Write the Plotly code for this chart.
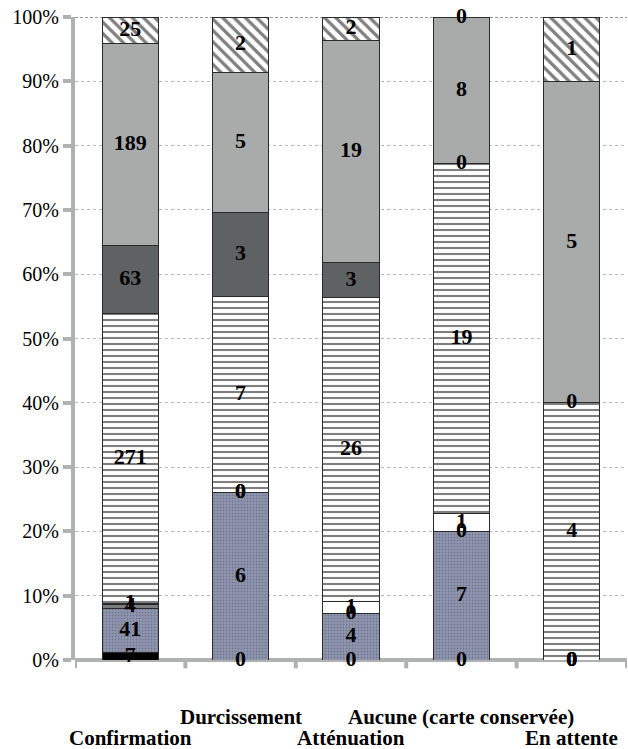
import plotly.graph_objects as go

# Categories and stacked series (counts), bottom to top
categories = ["Confirmation", "Durcissement", "Atténuation",
              "Aucune (carte conservée)", "En attente"]

s_black = [7, 0, 0, 0, 0]
s_granite = [41, 6, 4, 7, 0]
s_gray_band = [4, 0, 0, 0, 0]
s_white = [1, 0, 1, 1, 0]
s_hlines = [271, 7, 26, 19, 4]
s_dark = [63, 3, 3, 0, 0]
s_light = [189, 5, 19, 8, 5]
s_hatch = [25, 2, 2, 0, 1]

y_ticks = [0, 10, 20, 30, 40, 50, 60, 70, 80, 90, 100]
y_ticklabels = [f"{v}%" for v in y_ticks]

SERIF = "Liberation Serif, Times New Roman, Times, serif"
AXIS_GRAY = "#b0b2b2"

series = [
    dict(vals=s_black, color="#000000", pattern=None),
    dict(vals=s_granite, color="#8c93ab",
         pattern=dict(shape=".", fgcolor="#4f566c", bgcolor="#9097af",
                      size=3, solidity=0.3)),
    dict(vals=s_gray_band, color="#7a7c7d", pattern=None),
    dict(vals=s_white, color="#ffffff", pattern=None),
    dict(vals=s_hlines, color="#ffffff",
         pattern=dict(shape="-", fgcolor="#000000", bgcolor="#ffffff",
                      size=6, solidity=0.35)),
    dict(vals=s_dark, color="#5e6263", pattern=None),
    dict(vals=s_light, color="#a9abab", pattern=None),
    dict(vals=s_hatch, color="#ffffff",
         pattern=dict(shape="\\", fgcolor="#000000", bgcolor="#ffffff",
                      size=8, solidity=0.4)),
]

totals = [sum(s["vals"][i] for s in series) for i in range(len(categories))]

fig = go.Figure()
for s in series:
    marker = dict(color=s["color"], line=dict(color="#2a2a2a", width=1))
    if s["pattern"] is not None:
        marker["pattern"] = s["pattern"]
    fig.add_trace(go.Bar(x=categories, y=s["vals"], marker=marker,
                         showlegend=False, hoverinfo="skip"))

# Value labels centred in each segment (percent scale)
lab_x, lab_y, lab_t = [], [], []
for i, cat in enumerate(categories):
    cum = 0.0
    for s in series:
        v = s["vals"][i]
        pct = 100.0 * v / totals[i]
        lab_x.append(cat)
        lab_y.append(cum + pct / 2)
        lab_t.append(str(v))
        cum += pct
fig.add_trace(go.Scatter(
    x=lab_x, y=lab_y, text=lab_t, mode="text", showlegend=False,
    hoverinfo="skip", cliponaxis=False,
    textfont=dict(family=SERIF, size=22, color="#000000", weight="bold"),
))

# Staggered category labels
for i, cat in enumerate(categories):
    upper = (i % 2 == 1)
    fig.add_annotation(
        x=cat, xref="x", y=-0.088 if upper else -0.122, yref="paper",
        text=cat, showarrow=False, yanchor="middle", xanchor="center",
        font=dict(family=SERIF, size=21, color="#000000", weight="bold"),
    )

# Category boundary tick marks below the baseline
for k in range(len(categories) + 1):
    fig.add_shape(type="line", xref="x", yref="paper", x0=k - 0.5,
                  x1=k - 0.5, y0=0, y1=-0.013,
                  line=dict(color=AXIS_GRAY, width=4))

# Dashed top frame line
fig.add_shape(type="line", xref="paper", yref="y", x0=0, x1=1, y0=100,
              y1=100, line=dict(color="#333333", width=1, dash="3px,2px"))

fig.update_layout(
    barmode="stack",
    barnorm="percent",
    bargap=0.49,
    width=628, height=749,
    margin=dict(l=75, r=1, t=17, b=89),
    paper_bgcolor="#ffffff",
    plot_bgcolor="#ffffff",
    xaxis=dict(
        type="category", showticklabels=False, ticks="",
        showline=False, showgrid=False, zeroline=False,
        range=[-0.5, len(categories) - 0.5],
    ),
    yaxis=dict(
        range=[0, 100], tickvals=y_ticks, ticktext=y_ticklabels,
        ticks="outside", ticklen=8, tickwidth=4, tickcolor=AXIS_GRAY,
        showline=True, linecolor=AXIS_GRAY, linewidth=4,
        showgrid=True, gridcolor="#b8b8b8", gridwidth=1, griddash="3px,3px",
        zeroline=True, zerolinecolor=AXIS_GRAY, zerolinewidth=4,
        tickfont=dict(family=SERIF, size=20, color="#000000"),
    ),
)

fig.write_html("out.html")
